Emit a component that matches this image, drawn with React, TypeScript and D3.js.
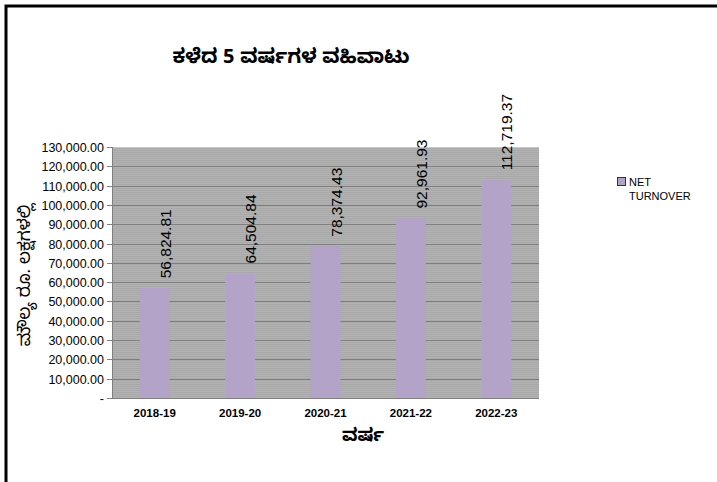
import { useRef, useEffect } from "react";
import * as d3 from "d3";

const years = ["2018-19", "2019-20", "2020-21", "2021-22", "2022-23"];
const turnover = [56824.81, 64504.84, 78374.43, 92961.93, 112719.37];
const yTicks = [0, 10000, 20000, 30000, 40000, 50000, 60000, 70000, 80000, 90000, 100000, 110000, 120000, 130000];

const W = 717;
const H = 482;
const M = { left: 112, right: 539, top: 147, bottom: 398 };
const BAR = "#b3a3c9";

export default function App() {
  const svgRef = useRef<SVGSVGElement>(null);

  useEffect(() => {
    const svg = d3.select(svgRef.current);
    if (!svg.node()) return;
    svg.selectAll("*").remove();

    const x = d3.scaleBand().domain(years).range([M.left, M.right]).paddingInner(0.65).paddingOuter(0.325);
    const y = d3.scaleLinear().domain([0, 130000]).range([M.bottom, M.top]);
    const fmt = d3.format(",.2f");

    // striped grey plot background
    const defs = svg.append("defs");
    const pat = defs.append("pattern").attr("id", "stripes")
      .attr("patternUnits", "userSpaceOnUse").attr("width", 4).attr("height", 2);
    pat.append("rect").attr("width", 4).attr("height", 2).attr("fill", "#b2b2b2");
    pat.append("rect").attr("width", 4).attr("height", 1).attr("fill", "#a9a9a9");

    svg.append("rect").attr("width", W).attr("height", H).attr("fill", "#fff");
    // outer frame (left + top only)
    svg.append("path").attr("d", `M6,${H} L6,6 L${W},6`)
      .attr("fill", "none").attr("stroke", "#000").attr("stroke-width", 3);

    svg.append("rect")
      .attr("x", M.left).attr("y", M.top)
      .attr("width", M.right - M.left).attr("height", M.bottom - M.top)
      .attr("fill", "url(#stripes)");

    // gridlines
    svg.append("g").selectAll("line").data(yTicks).join("line")
      .attr("x1", M.left).attr("x2", M.right)
      .attr("y1", (d) => Math.round(y(d)) + 0.5).attr("y2", (d) => Math.round(y(d)) + 0.5)
      .attr("stroke", (d) => (d === 130000 ? "#c8c8c8" : "#7f7f7f")).attr("stroke-width", 1);

    // bars
    svg.append("g").selectAll("rect").data(turnover).join("rect")
      .attr("x", (_, i) => x(years[i])!)
      .attr("width", x.bandwidth())
      .attr("y", (d) => y(d))
      .attr("height", (d) => M.bottom - y(d))
      .attr("fill", BAR);

    // axes lines
    svg.append("line").attr("x1", M.left + 0.5).attr("x2", M.left + 0.5)
      .attr("y1", M.top).attr("y2", M.bottom).attr("stroke", "#808080");
    svg.append("line").attr("x1", M.left).attr("x2", M.right)
      .attr("y1", M.bottom + 0.5).attr("y2", M.bottom + 0.5).attr("stroke", "#808080");

    // y ticks
    const yg = svg.append("g").attr("font-family", "Liberation Sans, Arial, sans-serif").attr("font-size", 12.5);
    yTicks.forEach((t) => {
      const yy = Math.round(y(t)) + 0.5;
      yg.append("line").attr("x1", M.left - 5).attr("x2", M.left).attr("y1", yy).attr("y2", yy).attr("stroke", "#808080");
      yg.append("text").attr("x", M.left - 8).attr("y", yy + 4.5)
        .attr("text-anchor", "end").attr("fill", "#000")
        .text(t === 0 ? "-" : fmt(t));
    });

    // x labels
    svg.append("g").selectAll("text").data(years).join("text")
      .attr("x", (d) => x(d)! + x.bandwidth() / 2)
      .attr("y", 417)
      .attr("text-anchor", "middle")
      .attr("font-family", "Liberation Sans, Arial, sans-serif")
      .attr("font-size", 11.5).attr("font-weight", "bold")
      .text((d) => d);

    // value labels
    svg.append("g").selectAll("text").data(turnover).join("text")
      .attr("transform", (d, i) => `translate(${x(years[i])! + x.bandwidth() / 2 + 16},${y(d) - 10}) rotate(-90)`)
      .attr("font-family", "Liberation Sans, Arial, sans-serif")
      .attr("font-size", 15.5)
      .text((d) => fmt(d));

    // legend
    svg.append("rect").attr("x", 617.5).attr("y", 177.5).attr("width", 8).attr("height", 8)
      .attr("fill", BAR).attr("stroke", "#333");
    const lg = svg.append("text").attr("font-family", "Liberation Sans, Arial, sans-serif").attr("font-size", 11);
    lg.append("tspan").attr("x", 629).attr("y", 186).text("NET");
    lg.append("tspan").attr("x", 629).attr("y", 200).text("TURNOVER");

    // titles
    svg.append("text").attr("x", 291).attr("y", 63).attr("text-anchor", "middle")
      .attr("font-size", 20).attr("font-weight", "bold")
      .attr("font-family", "Noto Sans Kannada, Noto Sans, sans-serif")
      .text("ಕಳೆದ 5 ವರ್ಷಗಳ ವಹಿವಾಟು");
    svg.append("text").attr("x", 363).attr("y", 441).attr("text-anchor", "middle")
      .attr("font-size", 18).attr("font-weight", "bold")
      .attr("font-family", "Noto Sans Kannada, Noto Sans, sans-serif")
      .text("ವರ್ಷ");
    svg.append("text").attr("transform", "translate(30,275) rotate(-90)").attr("text-anchor", "middle")
      .attr("font-size", 17)
      .attr("font-family", "Noto Sans Kannada, Noto Sans, sans-serif")
      .text("ಮೌಲ್ಯ ರೂ. ಲಕ್ಷಗಳಲ್ಲಿ");
  }, []);

  return (
    <svg ref={svgRef} width={W} height={H} style={{ position: "absolute", left: 0, top: 0, display: "block" }} />
  );
}
